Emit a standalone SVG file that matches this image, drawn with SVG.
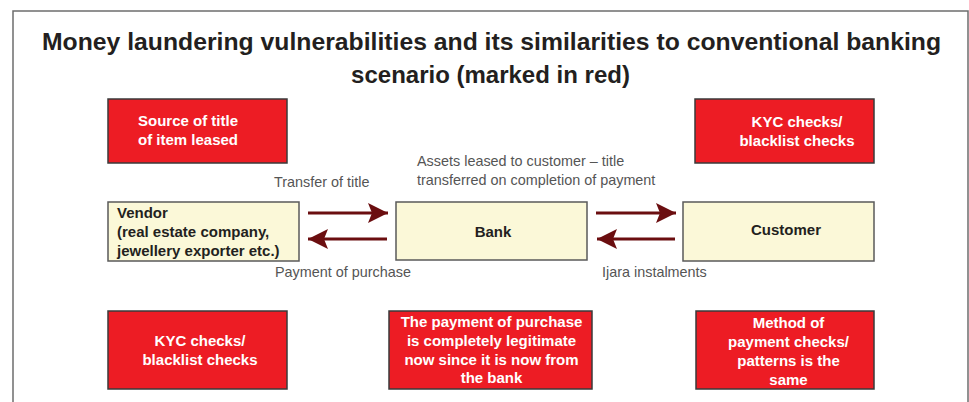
<svg xmlns="http://www.w3.org/2000/svg" width="969" height="402" viewBox="0 0 969 402">
  <defs>
    <style>
      .frame { fill: none; stroke: #6d6d6d; stroke-width: 1.5; }
      .title { font-family: "Liberation Sans", Arial, sans-serif; font-weight: bold; font-size: 24px; fill: #231f20; text-anchor: middle; }
      .risk rect { fill: #ed1c24; stroke: #3a3a3a; stroke-width: 1.5; }
      .risk text { font-family: "Liberation Sans", Arial, sans-serif; font-weight: bold; font-size: 15px; fill: #ffffff; }
      .party rect { fill: #fbf8d8; stroke: #5a5a5a; stroke-width: 1.5; }
      .party text { font-family: "Liberation Sans", Arial, sans-serif; font-weight: bold; font-size: 15px; fill: #231f20; }
      .label { font-family: "Liberation Sans", Arial, sans-serif; font-size: 14.4px; fill: #555555; }
      .flow { stroke: #6b0e10; stroke-width: 3; fill: none; marker-end: url(#head); }
      .mid { text-anchor: middle; }
    </style>
    <marker id="head" markerUnits="userSpaceOnUse" viewBox="0 0 20 20" refX="20" refY="10" markerWidth="20" markerHeight="20" orient="auto">
      <path d="M0,0 L20,10 L0,20 L4,10 Z" fill="#6b0e10"/>
    </marker>
  </defs>

  <rect width="969" height="402" fill="#ffffff"/>

  <!-- outer panel, open at the bottom -->
  <path class="frame" d="M13,410 V11 H968 V410"/>

  <!-- heading -->
  <text class="title" x="491.5" y="50" textLength="899" lengthAdjust="spacingAndGlyphs">Money laundering vulnerabilities and its similarities to conventional banking</text>
  <text class="title" x="490.5" y="83">scenario (marked in red)</text>

  <!-- red notes: vulnerabilities -->
  <g id="source-of-title" class="risk">
    <rect x="108" y="99" width="179" height="64"/>
    <text x="138" y="126">Source of title</text>
    <text x="138" y="145">of item leased</text>
  </g>

  <g id="kyc-customer" class="risk">
    <rect x="695" y="99" width="179" height="64"/>
    <text class="mid" x="797" y="126.5">KYC checks/</text>
    <text class="mid" x="797" y="145.5">blacklist checks</text>
  </g>

  <g id="kyc-vendor" class="risk">
    <rect x="108" y="311" width="179" height="78"/>
    <text class="mid" x="200" y="345.5">KYC checks/</text>
    <text class="mid" x="200" y="364.5">blacklist checks</text>
  </g>

  <g id="payment-legitimate" class="risk">
    <rect x="389" y="311" width="203" height="78"/>
    <text class="mid" x="491.5" y="327">The payment of purchase</text>
    <text class="mid" x="491.5" y="346">is completely legitimate</text>
    <text class="mid" x="491.5" y="364.5">now since it is now from</text>
    <text class="mid" x="491.5" y="383">the bank</text>
  </g>

  <g id="payment-method" class="risk">
    <rect x="696" y="311" width="178" height="78"/>
    <text class="mid" x="788.5" y="327.5">Method of</text>
    <text class="mid" x="788.5" y="346.5">payment checks/</text>
    <text class="mid" x="788.5" y="365.5">patterns is the</text>
    <text class="mid" x="788.5" y="384.5">same</text>
  </g>

  <!-- parties -->
  <g id="vendor" class="party">
    <rect x="108" y="202" width="191" height="59"/>
    <text x="117" y="218">Vendor</text>
    <text x="117" y="237">(real estate company,</text>
    <text x="117" y="256">jewellery exporter etc.)</text>
  </g>

  <g id="bank" class="party">
    <rect x="396" y="202" width="191" height="58"/>
    <text class="mid" x="493" y="237">Bank</text>
  </g>

  <g id="customer" class="party">
    <rect x="683" y="202" width="191" height="59"/>
    <text class="mid" x="786" y="235">Customer</text>
  </g>

  <!-- flows between parties -->
  <g id="connectors">
    <line class="flow" x1="308" y1="213" x2="388" y2="213"/>
    <line class="flow" x1="387" y1="239" x2="308" y2="239"/>
    <line class="flow" x1="596" y1="213" x2="676" y2="213"/>
    <line class="flow" x1="675" y1="239" x2="597" y2="239"/>

    <text class="label" x="274" y="187">Transfer of title</text>
    <text class="label" x="275" y="277">Payment of purchase</text>
    <text class="label" x="417" y="166">Assets leased to customer – title</text>
    <text class="label" x="417" y="184.5">transferred on completion of payment</text>
    <text class="label" x="602" y="277">Ijara instalments</text>
  </g>
</svg>
